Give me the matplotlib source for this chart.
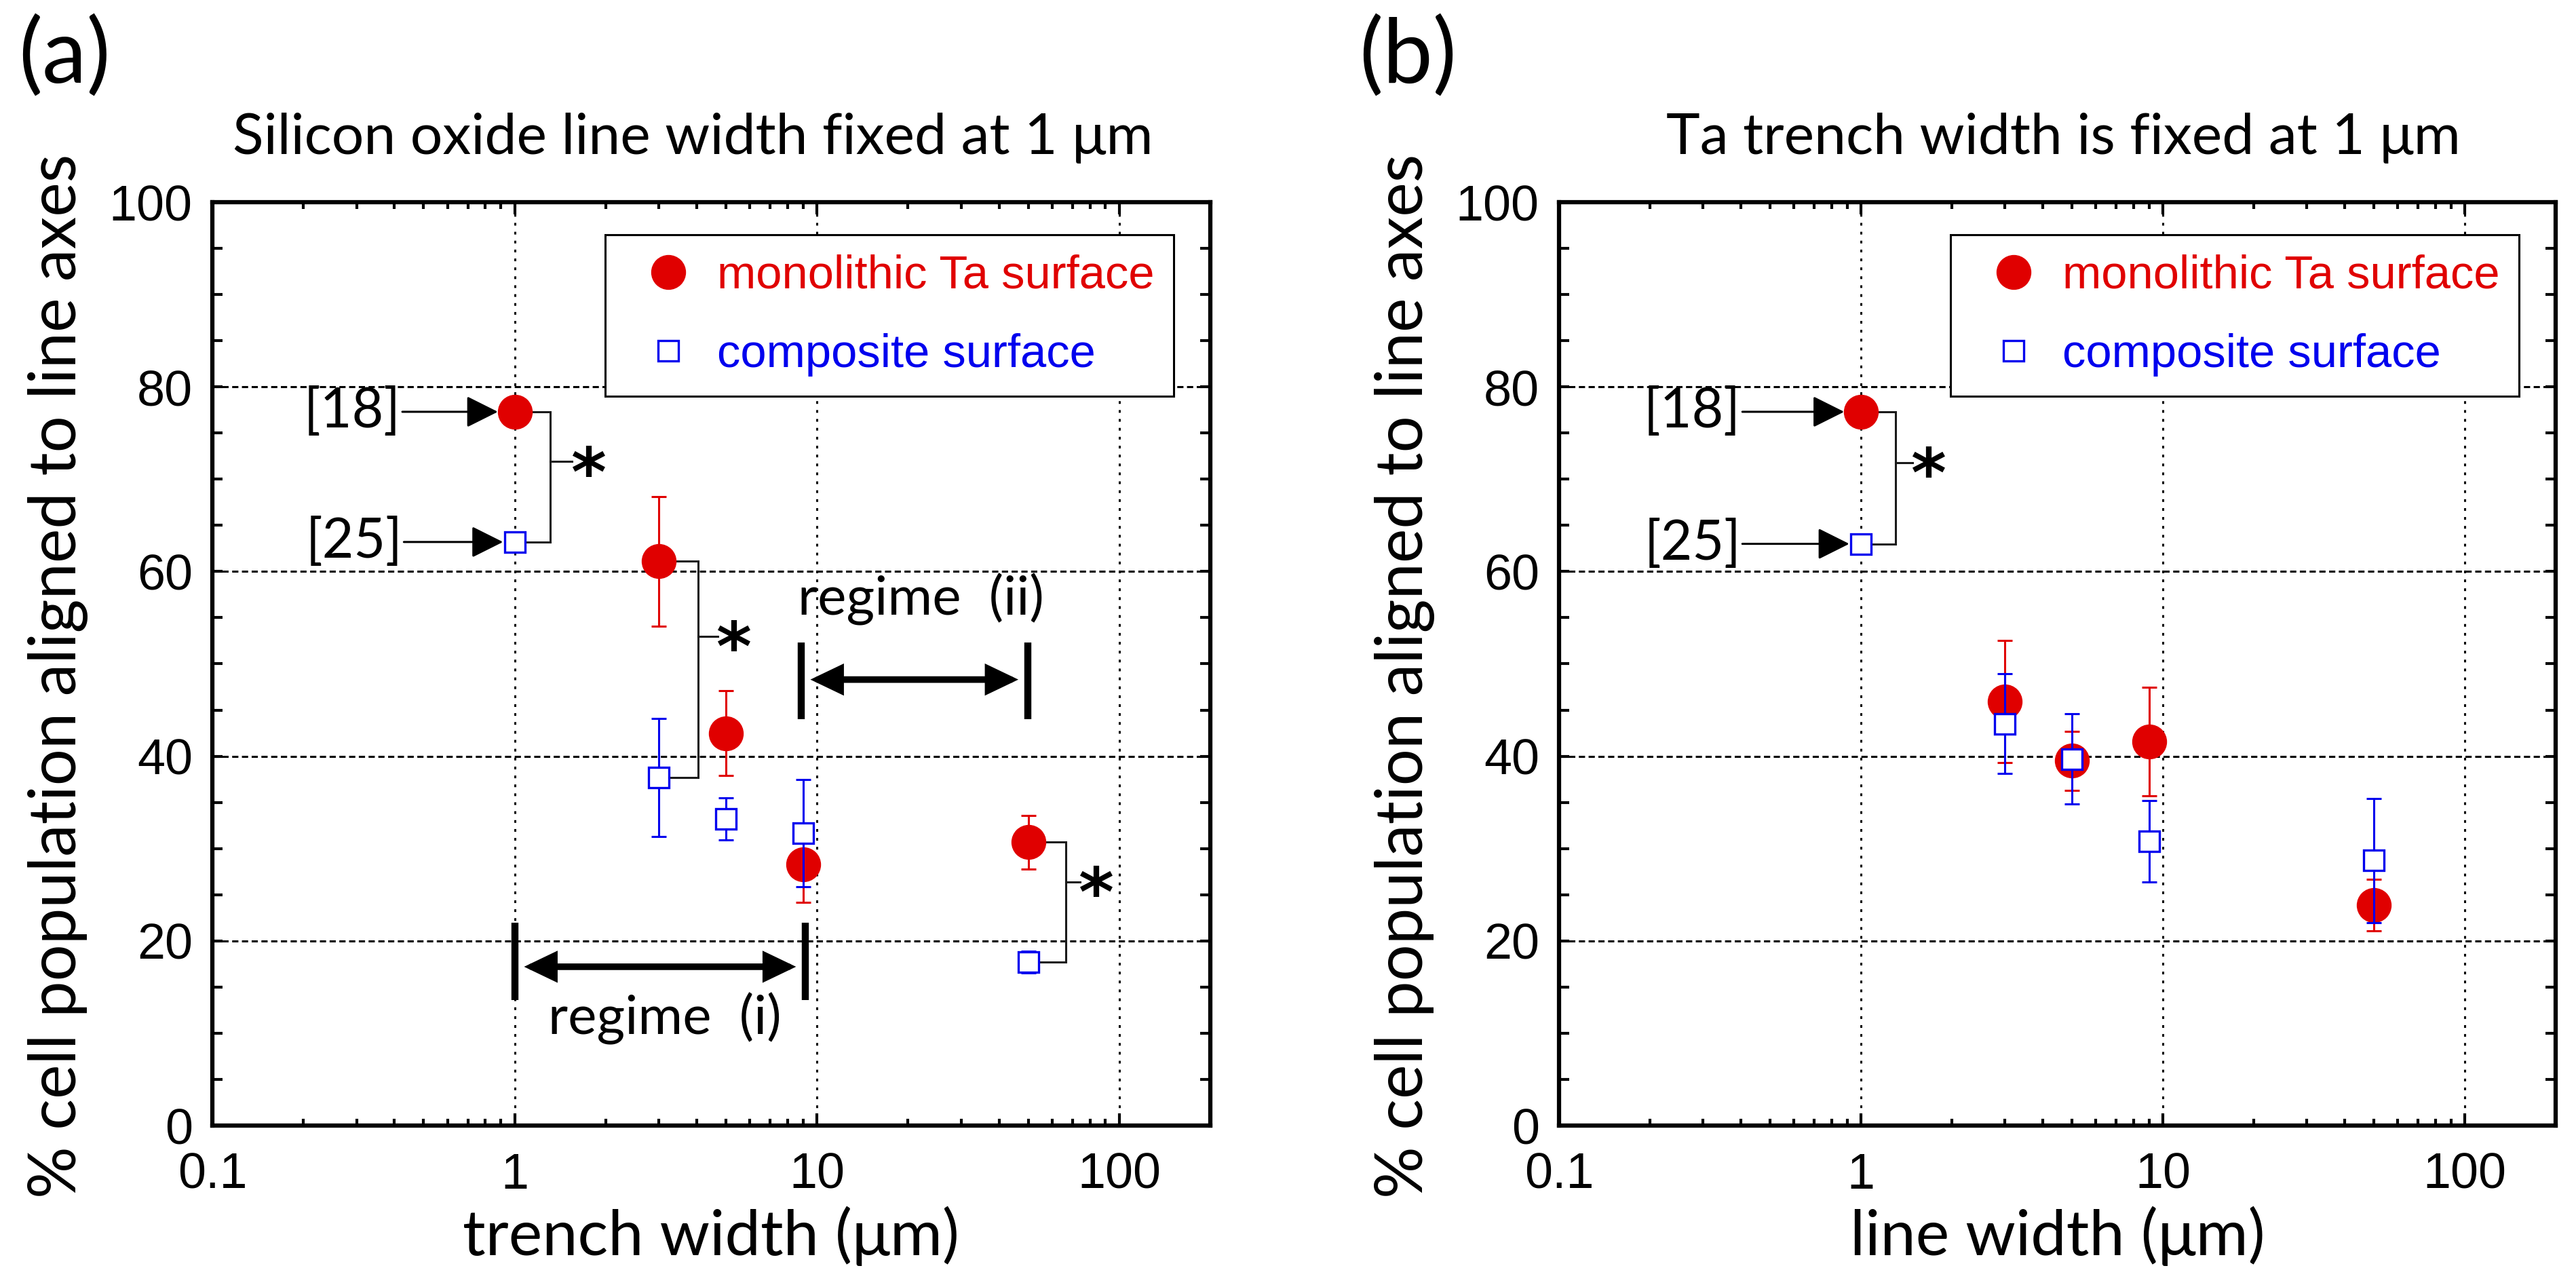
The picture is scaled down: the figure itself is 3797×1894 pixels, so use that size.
import numpy as np
import matplotlib
matplotlib.use('Agg')
import matplotlib.pyplot as plt
import matplotlib.transforms as mtransforms
from matplotlib.ticker import (FixedLocator, FixedFormatter, LogLocator,
                               MultipleLocator, NullFormatter)
from matplotlib.textpath import TextPath
from matplotlib.font_manager import FontProperties

# ---------------- data ----------------
widths = [1, 3, 5, 9, 50]          # µm

# (a) silicon oxide line width fixed at 1 µm, trench width varied
a_mono = [77.3, 61.1, 42.5, 28.3, 30.7]
a_mono_err = [1.5, 7.0, 4.6, 4.1, 2.9]
a_comp = [63.2, 37.7, 33.2, 31.7, 17.7]
a_comp_err = [0.8, 6.4, 2.3, 5.8, 1.2]

# (b) Ta trench width fixed at 1 µm, line width varied
b_mono = [77.3, 45.9, 39.5, 41.6, 23.9]
b_mono_err = [1.5, 6.6, 3.2, 5.9, 2.8]
b_comp = [63.0, 43.5, 39.7, 30.8, 28.7]
b_comp_err = [0.8, 5.4, 4.9, 4.4, 6.7]

x_ticks = [0.1, 1, 10, 100]
x_ticklabels = ['0.1', '1', '10', '100']
y_ticks = [0, 20, 40, 60, 80, 100]
y_ticklabels = ['0', '20', '40', '60', '80', '100']

series_labels = ['monolithic Ta surface', 'composite surface']
titles = ['Silicon oxide line width fixed at 1 \u03bcm',
          'Ta trench width is fixed at 1 \u03bcm']
xlabels = ['trench width (\u03bcm)', 'line width (\u03bcm)']
ylabel = '% cell population aligned to line axes'
panel_tags = ['(a)', '(b)']

# ---------------- style ----------------
W, H, DPI = 3797, 1894, 100
RED = '#e00000'
BLUE = '#0000ee'
SANS = ['Lato', 'DejaVu Sans']
ARIAL = ['Liberation Sans', 'DejaVu Sans']
plt.rcParams['font.family'] = SANS

fig = plt.figure(figsize=(W / DPI, H / DPI), dpi=DPI)
renderer = fig.canvas.get_renderer()

AX_TOP, AX_BOT = 298, 1659
axA = fig.add_axes([313 / W, 1 - AX_BOT / H, (1784 - 313) / W, (AX_BOT - AX_TOP) / H])
axB = fig.add_axes([2298 / W, 1 - AX_BOT / H, (3767 - 2298) / W, (AX_BOT - AX_TOP) / H])
AXW = (1784 - 313)
AXH = (AX_BOT - AX_TOP)


def fit(t, target_px, vertical=False):
    bb = t.get_window_extent(renderer)
    cur = bb.height if vertical else bb.width
    t.set_fontsize(t.get_fontsize() * target_px / cur)
    return t.get_fontsize()


# legend font size fitted to the reference text width
_lp = fig.text(0, 0, series_labels[0], fontsize=50, family=ARIAL)
LEG_FS = fit(_lp, 645)
_lp.remove()


def setup(ax):
    ax.set_xscale('log')
    ax.set_xlim(0.1, 200)
    ax.set_ylim(0, 100)
    ax.xaxis.set_major_locator(FixedLocator(x_ticks))
    ax.xaxis.set_major_formatter(FixedFormatter(x_ticklabels))
    ax.xaxis.set_minor_locator(LogLocator(base=10, subs=np.arange(2, 10)))
    ax.xaxis.set_minor_formatter(NullFormatter())
    ax.yaxis.set_major_locator(FixedLocator(y_ticks))
    ax.yaxis.set_major_formatter(FixedFormatter(y_ticklabels))
    ax.yaxis.set_minor_locator(MultipleLocator(5))
    ax.tick_params(which='both', direction='in', top=True, right=True,
                   width=3, labelsize=53, labelfontfamily='Liberation Sans')
    ax.tick_params(axis='x', which='major', length=13, pad=28)
    ax.tick_params(axis='x', which='minor', length=7)
    ax.tick_params(axis='y', which='both', length=11, pad=21)
    ax.xaxis.grid(True, which='major', color='black', linewidth=2.2,
                  linestyle=(0, (1.3, 3.0)), zorder=0)
    ax.yaxis.grid(True, which='major', color='black', linewidth=2.2,
                  linestyle=(0, (3.0, 1.7)), zorder=0)
    ax.set_axisbelow(True)
    for s in ax.spines.values():
        s.set_linewidth(4.5)


def plot_series(ax, mono, mono_err, comp, comp_err):
    ax.errorbar(widths, mono, yerr=mono_err, fmt='none', ecolor=RED,
                elinewidth=2.2, capsize=8, capthick=2.2, zorder=3)
    h1, = ax.plot(widths, mono, linestyle='none', marker='o', ms=36,
                  mfc=RED, mec=RED, mew=1, zorder=4, label=series_labels[0])
    ax.errorbar(widths, comp, yerr=comp_err, fmt='none', ecolor=BLUE,
                elinewidth=2.2, capsize=8, capthick=2.2, zorder=5)
    h2, = ax.plot(widths, comp, linestyle='none', marker='s', ms=22,
                  mfc='white', mec=BLUE, mew=2.4, zorder=6, label=series_labels[1])
    leg = ax.legend(handles=[h1, h2], loc='upper right',
                    bbox_to_anchor=(1 - 54 / AXW, 1 - 48 / AXH), borderaxespad=0,
                    frameon=True, fancybox=False, edgecolor='black', framealpha=1,
                    prop={'family': ARIAL, 'size': LEG_FS}, handlelength=1.85,
                    handletextpad=0.12, borderpad=0.42, labelspacing=0.76,
                    numpoints=1)
    leg.get_frame().set_linewidth(2.2)
    leg.set_zorder(10)
    for t, c in zip(leg.get_texts(), [RED, BLUE]):
        t.set_color(c)


# star glyph geometry (ink centred on the anchor point)
STAR_PROP = FontProperties(family='DejaVu Sans', weight='bold')
_tp = TextPath((0, 0), '*', size=100, prop=STAR_PROP)
_e = _tp.get_extents()
STAR_SIZE = 100 * (48 * 72 / DPI) / _e.width
STAR_DY = -((_e.y0 + _e.y1) / 2) * STAR_SIZE / 100


def star(ax, x, y):
    tr = ax.transData + mtransforms.ScaledTranslation(0, STAR_DY / 72, fig.dpi_scale_trans)
    ax.text(x, y, '*', transform=tr, ha='center', va='baseline',
            fontproperties=STAR_PROP, fontsize=STAR_SIZE, color='black', zorder=7)


BR_COLOR = '#1a1a1a'


def bracket(ax, x0, y_top, y_bot, xv, y_mid, x_tick, x_star):
    ax.plot([x0, xv, xv, x0], [y_top, y_top, y_bot, y_bot], color=BR_COLOR,
            lw=2.2, zorder=2, solid_joinstyle='miter')
    ax.plot([xv, x_tick], [y_mid, y_mid], color=BR_COLOR, lw=2.2, zorder=2)
    star(ax, x_star, y_mid)


def ref_label(ax, text, x_text, x_tip, y, fs):
    ax.text(x_text, y, text, ha='right', va='center', fontsize=fs,
            family=SANS, color='black', zorder=7)
    ax.annotate('', xy=(x_tip, y), xytext=(x_text * 1.012, y),
                arrowprops=dict(arrowstyle='-|>,head_length=0.58,head_width=0.29',
                                mutation_scale=50, lw=2.2, color='black',
                                shrinkA=0, shrinkB=0), zorder=7)


def regime(ax, x0, x1, y_lo, y_hi, y_arrow):
    for xx in (x0, x1):
        ax.plot([xx, xx], [y_lo, y_hi], color='black', lw=7.5,
                solid_capstyle='butt', zorder=7)
    ax.annotate('', xy=(x1, y_arrow), xytext=(x0, y_arrow),
                arrowprops=dict(arrowstyle='<|-|>,head_length=0.48,head_width=0.23',
                                mutation_scale=50, lw=7, color='black',
                                shrinkA=10, shrinkB=10, joinstyle='miter'),
                zorder=7)


for ax in (axA, axB):
    setup(ax)

plot_series(axA, a_mono, a_mono_err, a_comp, a_comp_err)
plot_series(axB, b_mono, b_mono_err, b_comp, b_comp_err)

# ---- text sizes fitted to the reference extents ----
tA = fig.text(343 / W, 1 - 227 / H, titles[0], ha='left', va='baseline',
              fontsize=60, family=SANS)
title_fs = fit(tA, 1360)
fig.text(2456 / W, 1 - 227 / H, titles[1], ha='left', va='baseline',
         fontsize=title_fs, family=SANS)

pa = fig.text(27 / W, 1 - 122 / H, panel_tags[0], ha='left', va='baseline',
              fontsize=90, family=SANS)
tag_fs = fit(pa, 136)
fig.text(2003 / W, 1 - 122 / H, panel_tags[1], ha='left', va='baseline',
         fontsize=tag_fs, family=SANS)

xlA = axA.set_xlabel(xlabels[0], family=SANS, fontsize=66, va='baseline')
xl_fs = fit(xlA, 733)
axB.set_xlabel(xlabels[1], family=SANS, fontsize=xl_fs, va='baseline')
ylA = axA.set_ylabel(ylabel, family=SANS, fontsize=66, va='baseline')
yl_fs = fit(ylA, 1541, vertical=True)
axB.set_ylabel(ylabel, family=SANS, fontsize=yl_fs, va='baseline')
for ax in (axA, axB):
    ax.xaxis.set_label_coords(0.5, (AX_BOT - 1850) / AXH)
    ax.yaxis.set_label_coords(-201 / AXW, 0.487)

ref_probe = axA.text(0.42, 77.3, '[18]', fontsize=56, family=SANS)
ref_fs = fit(ref_probe, 143)
ref_probe.remove()

rg_probe = axA.text(1.29, 9.85, 'regime  (i)', fontsize=54, family=SANS)
rg_fs = fit(rg_probe, 344)
rg_probe.remove()

# ---- panel (a) annotations ----
ref_label(axA, '[18]', 0.42, 0.88, a_mono[0], ref_fs)
ref_label(axA, '[25]', 0.425, 0.915, a_comp[0], ref_fs)
bracket(axA, widths[0], a_mono[0], a_comp[0], 1.31, 71.9, 1.55, 1.75)
bracket(axA, widths[1], a_mono[1], a_comp[1], 4.04, 53.0, 4.70, 5.29)
bracket(axA, widths[4], a_mono[4], a_comp[4], 66.4, 26.4, 74.1, 83.4)
regime(axA, 1.0, 9.16, 13.6, 22.0, 17.2)
axA.text(1.29, 9.85, 'regime  (i)', ha='left', va='baseline', fontsize=rg_fs,
         family=SANS, zorder=7)
regime(axA, 8.85, 49.8, 44.0, 52.3, 48.3)
axA.text(8.65, 55.3, 'regime  (ii)', ha='left', va='baseline', fontsize=rg_fs,
         family=SANS, zorder=7)

# ---- panel (b) annotations ----
ref_label(axB, '[18]', 0.40, 0.88, b_mono[0], ref_fs)
ref_label(axB, '[25]', 0.40, 0.915, b_comp[0], ref_fs)
bracket(axB, widths[0], b_mono[0], b_comp[0], 1.30, 71.8, 1.48, 1.67)

fig.savefig('out.png', dpi=DPI, facecolor='white')
